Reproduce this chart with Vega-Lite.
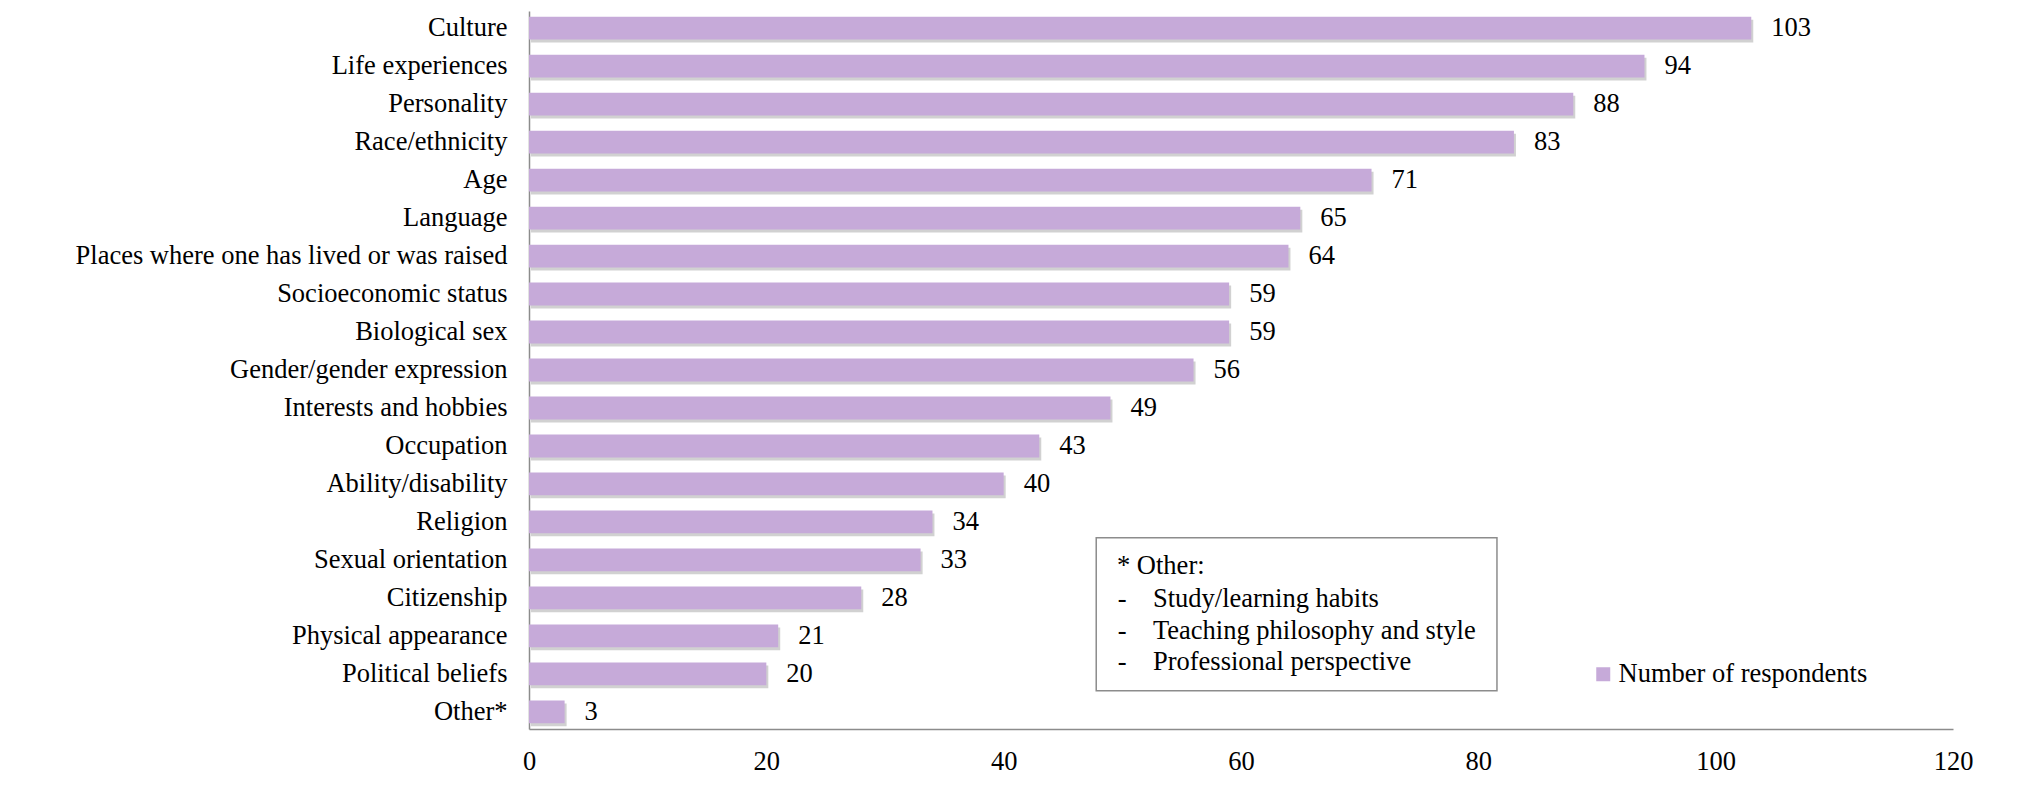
{
  "$schema": "https://vega.github.io/schema/vega-lite/v6.json",
  "autosize": "none",
  "width": 1424,
  "height": 718,
  "padding": {"left": 529, "top": 11, "right": 75, "bottom": 56},
  "background": "white",
  "config": {
    "view": {"stroke": null},
    "font": "Liberation Serif",
    "axis": {"labelFont": "Liberation Serif", "labelFontSize": 26.5, "labelColor": "#000000", "labelLimit": 0, "grid": false, "ticks": false, "tickSize": 0, "domainColor": "#8C8C8C", "domainWidth": 1.5, "title": null}
  },
  "datasets": {
    "bars": [
      {"category": "Culture", "respondents": 103},
      {"category": "Life experiences", "respondents": 94},
      {"category": "Personality", "respondents": 88},
      {"category": "Race/ethnicity", "respondents": 83},
      {"category": "Age", "respondents": 71},
      {"category": "Language", "respondents": 65},
      {"category": "Places where one has lived or was raised", "respondents": 64},
      {"category": "Socioeconomic status", "respondents": 59},
      {"category": "Biological sex", "respondents": 59},
      {"category": "Gender/gender expression", "respondents": 56},
      {"category": "Interests and hobbies", "respondents": 49},
      {"category": "Occupation", "respondents": 43},
      {"category": "Ability/disability", "respondents": 40},
      {"category": "Religion", "respondents": 34},
      {"category": "Sexual orientation", "respondents": 33},
      {"category": "Citizenship", "respondents": 28},
      {"category": "Physical appearance", "respondents": 21},
      {"category": "Political beliefs", "respondents": 20},
      {"category": "Other*", "respondents": 3}
    ],
    "notes": [
      {"text": "* Other:", "pos": 49.55, "row": 14.69},
      {"text": "-", "pos": 49.62, "row": 15.57},
      {"text": "Study/learning habits", "pos": 52.58, "row": 15.57},
      {"text": "-", "pos": 49.62, "row": 16.41},
      {"text": "Teaching philosophy and style", "pos": 52.58, "row": 16.41},
      {"text": "-", "pos": 49.62, "row": 17.23},
      {"text": "Professional perspective", "pos": 52.58, "row": 17.23}
    ]
  },
  "layer": [
    {
      "data": {"name": "bars"},
      "encoding": {
        "y": {"field": "category", "type": "nominal", "sort": null,
              "scale": {"paddingInner": 0.4, "paddingOuter": 0.15},
              "axis": {"labelPadding": 22, "domain": true}},
        "x": {"field": "respondents", "type": "quantitative",
              "scale": {"domain": [0, 120], "nice": false},
              "axis": {"values": [0, 20, 40, 60, 80, 100, 120], "labelPadding": 19, "labelFlush": false}}
      },
      "layer": [
        {"mark": {"type": "bar", "color": "#7a7a7a", "opacity": 0.35, "xOffset": 2, "yOffset": 3}},
        {"mark": {"type": "bar"},
         "encoding": {"color": {"datum": "Number of respondents", "type": "nominal",
           "scale": {"range": ["#C6AAD9"]},
           "legend": {"title": null, "orient": "none", "legendX": 1061, "legendY": 650, "padding": 0,
                      "symbolType": "square", "symbolSize": 196, "symbolStrokeWidth": 0, "labelLimit": 0,
                      "labelFont": "Liberation Serif", "labelFontSize": 26.5, "labelColor": "#000000", "labelOffset": 2}}}},
        {"mark": {"type": "text", "align": "left", "baseline": "middle", "dx": 20, "fontSize": 26.5, "font": "Liberation Serif", "color": "#000000"},
         "encoding": {"text": {"field": "respondents", "type": "quantitative"}}}
      ]
    },
    {
      "data": {"values": [{"note": "box"}]},
      "mark": {"type": "rect", "fill": "white", "stroke": "#8C8C8C", "strokeWidth": 1.5},
      "encoding": {
        "x": {"datum": 47.8, "type": "quantitative"},
        "x2": {"datum": 81.57},
        "y": {"datum": 13.94, "type": "quantitative", "scale": {"domain": [0, 19], "reverse": true, "nice": false, "zero": false}, "axis": null},
        "y2": {"datum": 17.99}
      }
    },
    {
      "data": {"name": "notes"},
      "mark": {"type": "text", "align": "left", "baseline": "middle", "fontSize": 26.5, "font": "Liberation Serif", "color": "#000000"},
      "encoding": {
        "x": {"field": "pos", "type": "quantitative"},
        "y": {"field": "row", "type": "quantitative", "scale": {"domain": [0, 19], "reverse": true, "nice": false, "zero": false}, "axis": null},
        "text": {"field": "text", "type": "nominal"}
      }
    }
  ],
  "resolve": {"scale": {"y": "independent"}}
}
